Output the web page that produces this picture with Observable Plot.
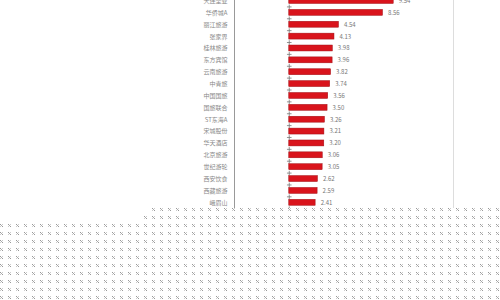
<!DOCTYPE html>
<html>
<head>
<meta charset="utf-8">
<script src="https://cdn.jsdelivr.net/npm/d3@7"></script>
<script src="https://cdn.jsdelivr.net/npm/@observablehq/plot@0.6"></script>
<style>
  html, body { margin: 0; padding: 0; background: #fff; }
  body { width: 500px; height: 300px; position: relative; overflow: hidden; font-family: "Noto Sans CJK SC", sans-serif; }
  #chart { position: absolute; left: 0; top: -9px; }
  .dots { position: absolute; background-color: #fff;
    background-image: url("data:image/svg+xml,%3Csvg xmlns='http://www.w3.org/2000/svg' width='8' height='8'%3E%3Crect x='0' y='0' width='1' height='1' fill='%23999'/%3E%3Crect x='2' y='0' width='1' height='1' fill='%23ccc'/%3E%3Crect x='1' y='1' width='1' height='1' fill='%23aaa'/%3E%3Crect x='0' y='2' width='1' height='1' fill='%23ccc'/%3E%3Crect x='2' y='2' width='1' height='1' fill='%23999'/%3E%3C/svg%3E");
    background-repeat: repeat; background-position: 0 0; }
</style>
</head>
<body>
<div id="chart"></div>
<div class="dots" style="left:152px; top:208px; width:348px; height:8px;"></div>
<div class="dots" style="left:144px; top:216px; width:356px; height:8px;"></div>
<div class="dots" style="left:0px; top:224px; width:500px; height:76px;"></div>
<script>
const names = ["大连圣亚","华侨城A","丽江旅游","张家界","桂林旅游","东方宾馆","云南旅游","中青旅","中国国旅","国旅联合","ST东海A","宋城股份","华天酒店","北京旅游","世纪游轮","西安饮食","西藏旅游","峨眉山"];
const values = [9.54, 8.56, 4.54, 4.13, 3.98, 3.96, 3.82, 3.74, 3.56, 3.50, 3.26, 3.21, 3.20, 3.06, 3.05, 2.62, 2.59, 2.41];
const data = names.map((n, i) => ({name: n, value: values[i]}));

const chart = Plot.plot({
  width: 500,
  height: 221,
  marginTop: 0.6,
  marginBottom: 0.8,
  marginLeft: 234,
  marginRight: 47,
  style: {fontFamily: "'Noto Sans CJK SC', sans-serif", background: "transparent"},
  x: {domain: [-5, 15], axis: null},
  y: {domain: names, padding: 0.5, round: false, label: null},
  marks: [
    Plot.ruleX([-5], {stroke: "#999", strokeWidth: 1}),
    Plot.ruleX([15], {stroke: "#ddd", strokeWidth: 1}),
    Plot.axisY({tickSize: 0, tickPadding: 7, fontSize: 6, fill: "#888", label: null}),
    Plot.dot(names, {x: () => 0, y: d => d, dy: 5.9, symbol: "plus", r: 1.6, stroke: "#777", strokeWidth: 0.8}),
    Plot.barX(data, {x: "value", y: "name", fill: "#d9141c", stroke: "#a10d13", strokeWidth: 0.5}),
    Plot.text(data, {x: "value", y: "name", text: d => d.value.toFixed(2), dx: 5, textAnchor: "start", fontSize: 6, fill: "#777"})
  ]
});
document.getElementById("chart").appendChild(chart);
</script>
</body>
</html>
